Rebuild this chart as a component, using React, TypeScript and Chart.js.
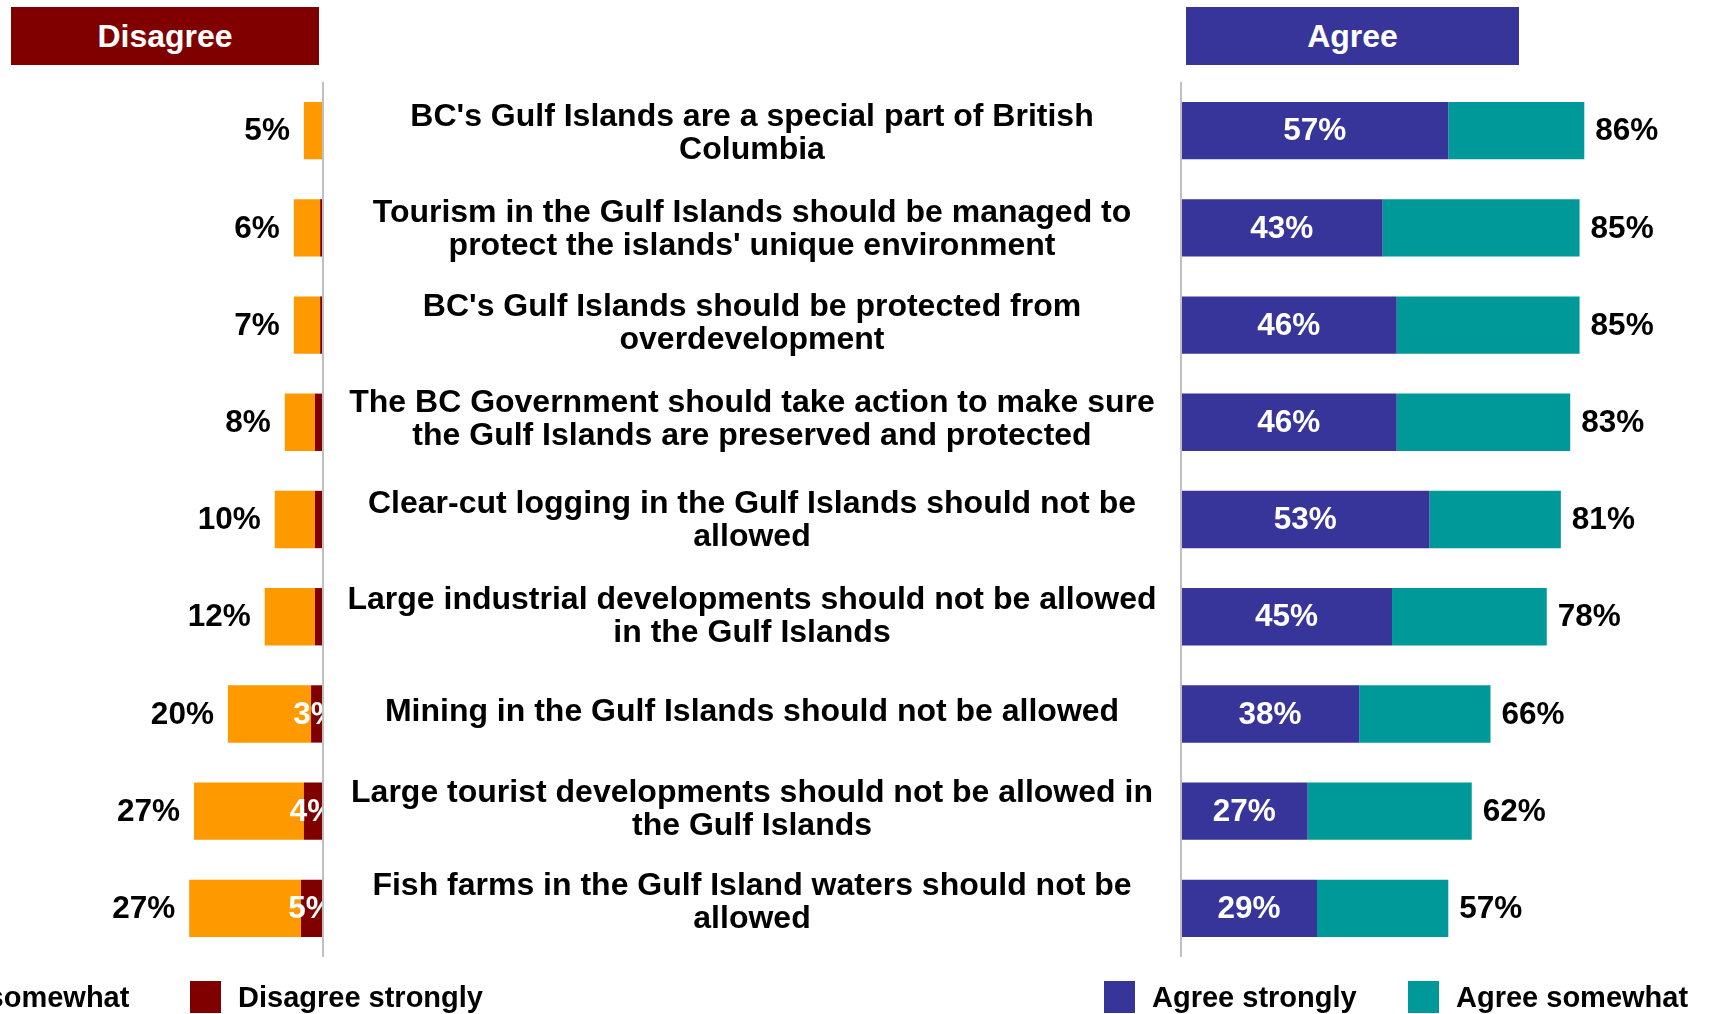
import { useEffect, useRef } from "react";
import { Chart, registerables } from "chart.js";

Chart.register(...registerables);

const FONT_FAMILY = "'Liberation Sans', Arial, Helvetica, sans-serif";
Chart.defaults.font.family = FONT_FAMILY;

const categories = [
  "BC's Gulf Islands are a special part of British\nColumbia",
  "Tourism in the Gulf Islands should be managed to\nprotect the islands' unique environment",
  "BC's Gulf Islands should be protected from\noverdevelopment",
  "The BC Government should take action to make sure\nthe Gulf Islands are preserved and protected",
  "Clear-cut logging in the Gulf Islands should not be\nallowed",
  "Large industrial developments should not be allowed\nin the Gulf Islands",
  "Mining in the Gulf Islands should not be allowed",
  "Large tourist developments should not be allowed in\nthe Gulf Islands",
  "Fish farms in the Gulf Island waters should not be\nallowed",
];

// disagree side (bars, labels as printed)
const disagreeStrongly = [0, 0.6, 0.6, 1.7, 1.7, 1.7, 2.5, 4.0, 4.6];
const disagreeSomewhat = [4.0, 5.5, 5.5, 6.3, 8.4, 10.5, 17.4, 23.0, 23.4];
const disagreeTotalLabels = ["5%", "6%", "7%", "8%", "10%", "12%", "20%", "27%", "27%"];
const disagreeStronglyLabels = ["", "", "", "", "", "", "3%", "4%", "5%"];

// agree side
const agreeStrongly = [57, 43, 46, 46, 53, 45, 38, 27, 29];
const agreeSomewhat = [29, 42, 39, 37, 28, 33, 28, 35, 28];

// the statement text boxes sit a little off the bar centres in the original
const statementNudge = [2, 1, -2, -4, 0, -1, -3, -2, -7];

const ORANGE = "#FF9900";
const MAROON = "#800000";
const NAVY = "#373599";
const TEAL = "#009999";
const AXIS = "#C0C0C0";

const VALUE_FONT = `bold 31.5px ${FONT_FAMILY}`;
const CAT_FONT = `bold 32px ${FONT_FAMILY}`;

const leftPlugin = {
  id: "leftLabels",
  afterDatasetsDraw(chart: any) {
    const { ctx, chartArea, scales } = chart;
    const x = scales.x;
    const y = scales.y;
    ctx.save();
    ctx.font = VALUE_FONT;
    ctx.textBaseline = "middle";
    categories.forEach((_, i) => {
      const yc = y.getPixelForValue(i) + 1;
      const total = disagreeStrongly[i] + disagreeSomewhat[i];
      ctx.fillStyle = "#000";
      ctx.textAlign = "right";
      ctx.fillText(disagreeTotalLabels[i], x.getPixelForValue(total) - 14, yc);
      if (disagreeStronglyLabels[i]) {
        ctx.save();
        ctx.beginPath();
        ctx.rect(chartArea.left, chartArea.top, chartArea.right - chartArea.left, chartArea.bottom - chartArea.top);
        ctx.clip();
        ctx.fillStyle = "#fff";
        ctx.textAlign = "center";
        const mid = (x.getPixelForValue(0) + x.getPixelForValue(disagreeStrongly[i])) / 2;
        ctx.fillText(disagreeStronglyLabels[i], mid - 1, yc);
        ctx.restore();
      }
    });
    ctx.strokeStyle = AXIS;
    ctx.lineWidth = 2;
    ctx.beginPath();
    ctx.moveTo(chartArea.right, chartArea.top);
    ctx.lineTo(chartArea.right, chartArea.bottom);
    ctx.stroke();
    ctx.restore();
  },
};

const rightPlugin = {
  id: "rightLabels",
  afterDatasetsDraw(chart: any) {
    const { ctx, chartArea, scales } = chart;
    const x = scales.x;
    const y = scales.y;
    ctx.save();
    ctx.textBaseline = "middle";
    categories.forEach((cat, i) => {
      const yc = y.getPixelForValue(i) + 1;
      const total = agreeStrongly[i] + agreeSomewhat[i];
      ctx.font = VALUE_FONT;
      ctx.fillStyle = "#fff";
      ctx.textAlign = "center";
      ctx.fillText(agreeStrongly[i] + "%", (x.getPixelForValue(0) + x.getPixelForValue(agreeStrongly[i])) / 2, yc);
      ctx.fillStyle = "#000";
      ctx.textAlign = "left";
      ctx.fillText(total + "%", x.getPixelForValue(total) + 11, yc);

      // statement text in the gap between the two panels
      const lines = cat.split("\n");
      ctx.font = CAT_FONT;
      ctx.textAlign = "center";
      const cx = chartArea.left - 429;
      const cy = yc + statementNudge[i];
      lines.forEach((line, k) => {
        ctx.fillText(line, cx, cy + (k - (lines.length - 1) / 2) * 33);
      });
    });
    ctx.strokeStyle = AXIS;
    ctx.lineWidth = 2;
    ctx.beginPath();
    ctx.moveTo(chartArea.left, chartArea.top);
    ctx.lineTo(chartArea.left, chartArea.bottom);
    ctx.stroke();
    ctx.restore();
  },
};

function makeOptions(reverse: boolean, max: number, padding: any) {
  return {
    indexAxis: "y" as const,
    responsive: true,
    maintainAspectRatio: false,
    animation: false as const,
    events: [],
    layout: { padding },
    plugins: { legend: { display: false }, tooltip: { enabled: false } },
    scales: {
      x: { type: "linear" as const, stacked: true, min: 0, max, reverse, display: false },
      y: { type: "category" as const, stacked: true, display: false },
    },
  };
}

function barSet(label: string, data: number[], color: string) {
  return {
    label,
    data,
    backgroundColor: color,
    borderWidth: 0,
    barPercentage: 0.59,
    categoryPercentage: 1,
  };
}

function DisagreePanel() {
  const ref = useRef<HTMLCanvasElement>(null);
  useEffect(() => {
    if (!ref.current) return;
    const chart = new Chart(ref.current, {
      type: "bar",
      data: {
        labels: categories,
        datasets: [
          barSet("Disagree strongly", disagreeStrongly, MAROON),
          barSet("Disagree somewhat", disagreeSomewhat, ORANGE),
        ],
      },
      options: makeOptions(true, 67.6, { top: 82, bottom: 57, left: 0, right: 3 }) as any,
      plugins: [leftPlugin],
    });
    return () => chart.destroy();
  }, []);
  return (
    <div style={{ position: "absolute", left: 0, top: 0, width: 326, height: 1014 }}>
      <canvas ref={ref} />
    </div>
  );
}

function AgreePanel() {
  const ref = useRef<HTMLCanvasElement>(null);
  useEffect(() => {
    if (!ref.current) return;
    const chart = new Chart(ref.current, {
      type: "bar",
      data: {
        labels: categories,
        datasets: [
          barSet("Agree strongly", agreeStrongly, NAVY),
          barSet("Agree somewhat", agreeSomewhat, TEAL),
        ],
      },
      options: makeOptions(false, 96.6, { top: 82, bottom: 57, left: 858, right: 76 }) as any,
      plugins: [rightPlugin],
    });
    return () => chart.destroy();
  }, []);
  return (
    <div style={{ position: "absolute", left: 323, top: 0, width: 1387, height: 1014 }}>
      <canvas ref={ref} />
    </div>
  );
}

const legendItems = [
  { label: "Disagree somewhat", color: ORANGE, left: -191 },
  { label: "Disagree strongly", color: MAROON, left: 190 },
  { label: "Agree strongly", color: NAVY, left: 1104 },
  { label: "Agree somewhat", color: TEAL, left: 1408 },
];

function Header({ text, left, width, color }: { text: string; left: number; width: number; color: string }) {
  return (
    <div
      style={{
        position: "absolute",
        left,
        top: 7,
        width,
        height: 58,
        background: color,
        color: "#fff",
        font: `bold 32px ${FONT_FAMILY}`,
        lineHeight: "58px",
        textAlign: "center",
      }}
    >
      {text}
    </div>
  );
}

export default function App() {
  return (
    <div
      style={{
        position: "absolute",
        left: 0,
        top: 0,
        width: 1710,
        height: 1014,
        overflow: "hidden",
        background: "#fff",
        fontFamily: FONT_FAMILY,
      }}
    >
      <Header text="Disagree" left={11} width={308} color={MAROON} />
      <Header text="Agree" left={1186} width={333} color={NAVY} />
      <DisagreePanel />
      <AgreePanel />
      {legendItems.map((item) => (
        <div
          key={item.label}
          style={{
            position: "absolute",
            left: item.left,
            top: 981,
            height: 32,
            display: "flex",
            alignItems: "center",
            whiteSpace: "nowrap",
          }}
        >
          <span style={{ display: "inline-block", width: 31, height: 32, background: item.color, marginRight: 17 }} />
          <span style={{ font: `bold 29px ${FONT_FAMILY}`, color: "#000" }}>{item.label}</span>
        </div>
      ))}
    </div>
  );
}
